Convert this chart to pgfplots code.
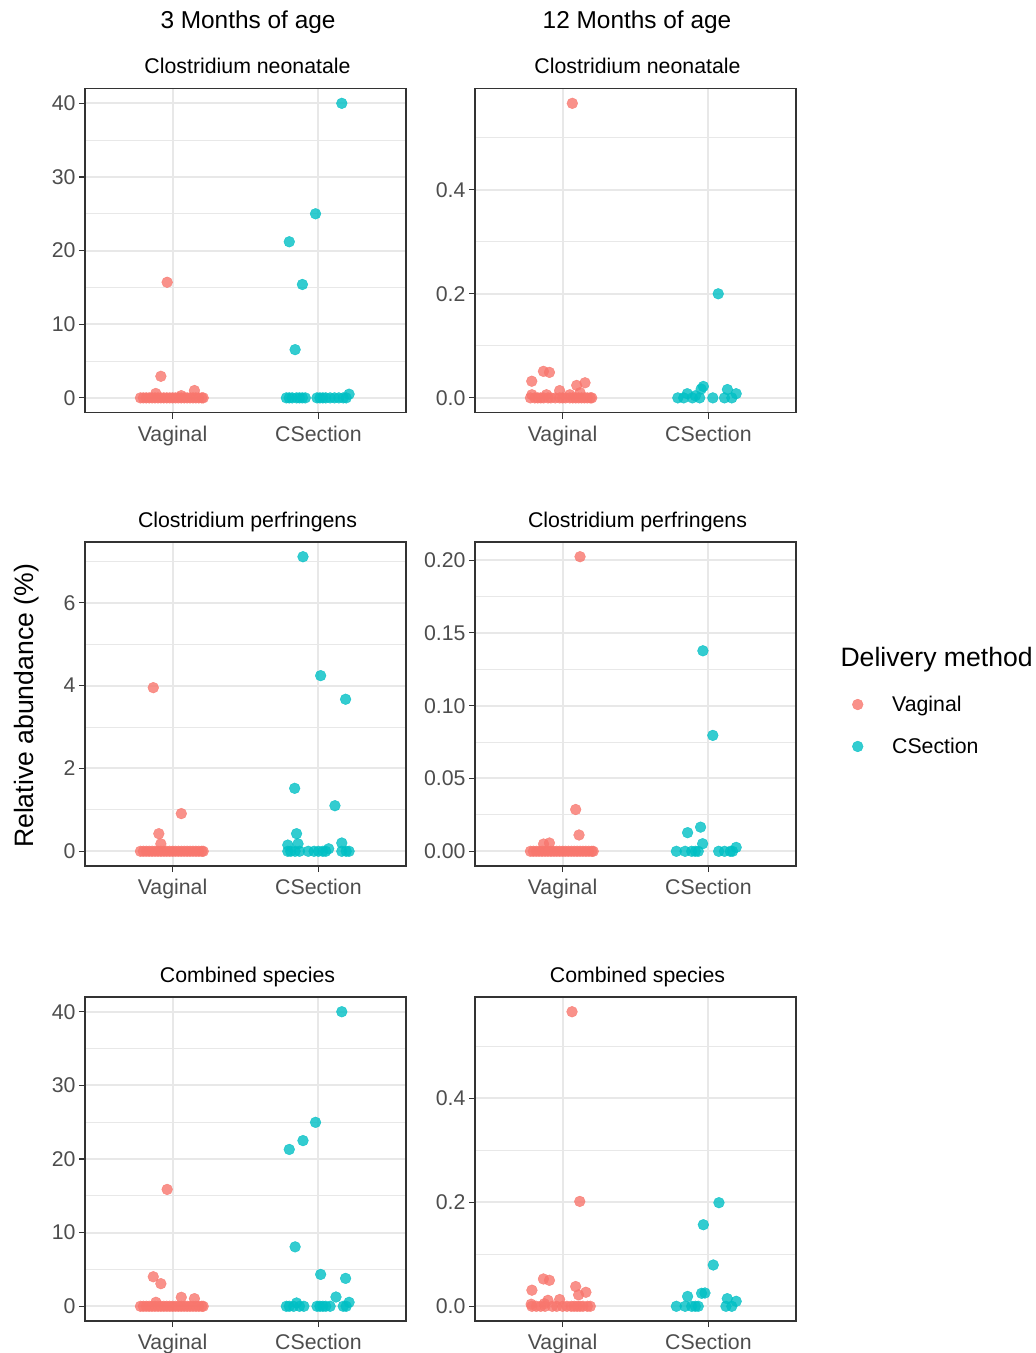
\documentclass[border=0pt]{standalone}
\usepackage{fontspec}
\setmainfont{Liberation Sans}
\usepackage{pgfplots}
\pgfplotsset{compat=1.18}

\definecolor{vag}{HTML}{F8766D}
\definecolor{csec}{HTML}{00BFC4}
\definecolor{gridc}{HTML}{E8E8E8}
\definecolor{g20}{HTML}{333333}
\definecolor{g30}{HTML}{4D4D4D}

\newcommand{\ticksize}{\fontsize{21.3}{25}\selectfont}
\newcommand{\headsize}{\fontsize{24.4}{28}\selectfont}
\newcommand{\titlesize}{\fontsize{26.6}{30}\selectfont}

\pgfplotsset{
  panel/.style={
    scale only axis, width=321pt, height=324pt,
    xmin=0.4, xmax=2.6,
    xtick={1,2}, xticklabels={Vaginal,CSection},
    xtick pos=bottom, ytick pos=left,
    xmajorgrids, ymajorgrids, yminorgrids,
    major grid style={color=gridc, line width=2pt},
    minor grid style={color=gridc, line width=1pt},
    tick align=outside, major tick length=6pt, minor tick length=0pt,
    tick style={color=g20, line width=1.1pt},
    axis line style={color=g20, line width=1.1pt},
    ticklabel style={font=\ticksize, text=g30},
    xticklabel style={yshift=-4pt},
    title style={font=\ticksize, at={(0.5,1)}, anchor=base, yshift=9pt, xshift=2pt},
    clip=false,
  },
  vagplot/.style={only marks, mark=*, mark size=5.4pt, color=vag,
    mark options={draw=vag, fill=vag, opacity=0.8}},
  csplot/.style={only marks, mark=*, mark size=5.4pt, color=csec,
    mark options={draw=csec, fill=csec, opacity=0.8}},
}

\begin{document}
\begin{tikzpicture}[x=1pt,y=1pt]
\useasboundingbox (0,0) rectangle (1036,-1353);

% column headers and shared labels
\node[font=\headsize, anchor=base] at (248,-28.5) {3 Months of age};
\node[font=\headsize, anchor=base] at (637,-28.5) {12 Months of age};
\node[font=\titlesize, rotate=90] at (27,-706) {Relative abundance (\%)};
\node[font=\titlesize, anchor=base west] at (837,-666) {Delivery method};

% ---- row 1: Clostridium neonatale
\begin{axis}[panel, at={(85pt,-88.6pt)}, anchor=north west,
    title={Clostridium neonatale},
    ymin=-2, ymax=42, ytick={0,10,20,30,40}, yticklabels={0,10,20,30,40},
    minor ytick={5,15,25,35}]
\addplot[vagplot] coordinates {
  (0.78,0) (0.80,0) (0.82,0) (0.84,0) (0.86,0) (0.88,0) (0.90,0) (0.92,0)
  (0.94,0) (0.96,0) (0.98,0) (1.00,0) (1.02,0) (1.04,0) (1.06,0) (1.08,0)
  (1.10,0) (1.12,0) (1.14,0) (1.16,0) (1.18,0) (1.20,0) (1.21,0)
  (0.885,0.6) (1.15,1.0) (1.06,0.3) (0.92,2.93) (0.963,15.7)
};
\addplot[csplot] coordinates {
  (1.78,0) (1.80,0) (1.82,0) (1.85,0) (1.87,0) (1.89,0) (1.91,0) (1.99,0)
  (2.01,0) (2.03,0) (2.05,0) (2.08,0) (2.11,0) (2.14,0) (2.17,0) (2.19,0)
  (2.21,0.5) (1.84,6.55) (1.89,15.4) (1.80,21.2) (1.98,25.0) (2.16,40)
};
\end{axis}

\begin{axis}[panel, at={(475pt,-88.6pt)}, anchor=north west,
    title={Clostridium neonatale},
    ymin=-0.0283, ymax=0.5943, ytick={0,0.2,0.4}, yticklabels={0.0,0.2,0.4},
    minor ytick={0.1,0.3,0.5}]
\addplot[vagplot] coordinates {
  (0.78,0) (0.81,0) (0.83,0) (0.85,0) (0.87,0) (0.90,0) (0.92,0) (0.95,0)
  (0.98,0) (1.00,0) (1.02,0) (1.05,0) (1.07,0) (1.09,0) (1.11,0) (1.13,0)
  (1.15,0) (1.17,0) (1.19,0) (1.20,0)
  (0.79,0.006) (0.89,0.006) (1.05,0.006) (1.12,0.010) (0.98,0.014)
  (1.097,0.024) (1.154,0.029) (0.789,0.032) (0.91,0.049) (0.869,0.051)
  (1.067,0.566)
};
\addplot[csplot] coordinates {
  (1.79,0) (1.83,0) (1.89,0) (1.94,0) (2.03,0) (2.11,0) (2.16,0)
  (1.91,0.004) (1.855,0.008) (2.19,0.008) (2.13,0.016) (1.95,0.017)
  (1.965,0.022) (2.067,0.2)
};
\end{axis}

% ---- row 2: Clostridium perfringens
\begin{axis}[panel, at={(85pt,-542pt)}, anchor=north west,
    title={Clostridium perfringens},
    ymin=-0.3555, ymax=7.4655, ytick={0,2,4,6}, yticklabels={0,2,4,6},
    minor ytick={1,3,5,7}]
\addplot[vagplot] coordinates {
  (0.78,0) (0.80,0) (0.82,0) (0.84,0) (0.86,0) (0.88,0) (0.90,0) (0.92,0)
  (0.94,0) (0.96,0) (0.98,0) (1.00,0) (1.02,0) (1.04,0) (1.06,0) (1.08,0)
  (1.10,0) (1.12,0) (1.14,0) (1.16,0) (1.18,0) (1.20,0) (1.21,0)
  (0.92,0.18) (0.906,0.425) (1.06,0.91) (0.868,3.95)
};
\addplot[csplot] coordinates {
  (1.79,0) (1.81,0) (1.84,0) (1.87,0) (1.93,0) (1.97,0) (2.00,0) (2.03,0)
  (2.05,0) (2.16,0) (2.19,0) (2.21,0)
  (2.07,0.06) (1.79,0.15) (1.86,0.18) (2.16,0.2) (1.85,0.425) (2.113,1.10)
  (1.837,1.52) (2.186,3.67) (2.015,4.24) (1.894,7.11)
};
\end{axis}

\begin{axis}[panel, at={(475pt,-542pt)}, anchor=north west,
    title={Clostridium perfringens},
    ymin=-0.0101, ymax=0.2124, ytick={0,0.05,0.1,0.15,0.2},
    yticklabels={0.00,0.05,0.10,0.15,0.20},
    minor ytick={0.025,0.075,0.125,0.175},
    legend cell align=left,
    legend style={draw=none, fill=none, font=\ticksize,
      at={(1.1655,0.5375)}, anchor=north west, row sep=21pt, column sep=27pt},
    legend image code/.code={\draw[#1] plot coordinates {(6pt,0pt)};}]
\addplot[vagplot] coordinates {
  (0.78,0) (0.80,0) (0.82,0) (0.84,0) (0.86,0) (0.88,0) (0.90,0) (0.92,0)
  (0.94,0) (0.96,0) (0.98,0) (1.00,0) (1.02,0) (1.04,0) (1.06,0) (1.08,0)
  (1.10,0) (1.12,0) (1.14,0) (1.16,0) (1.18,0) (1.20,0) (1.21,0)
  (0.87,0.005) (0.91,0.0057) (1.113,0.0112) (1.09,0.0287) (1.12,0.2023)
};
\addlegendentry{Vaginal}
\addplot[csplot] coordinates {
  (1.78,0) (1.84,0) (1.885,0) (1.91,0) (1.93,0) (2.07,0) (2.11,0) (2.15,0)
  (2.165,0)
  (2.19,0.0027) (1.96,0.0052) (1.857,0.0128) (1.946,0.0166) (2.03,0.0796)
  (1.962,0.1377)
};
\addlegendentry{CSection}
\end{axis}

% ---- row 3: Combined species
\begin{axis}[panel, at={(85pt,-997pt)}, anchor=north west,
    title={Combined species},
    ymin=-2, ymax=42, ytick={0,10,20,30,40}, yticklabels={0,10,20,30,40},
    minor ytick={5,15,25,35}]
\addplot[vagplot] coordinates {
  (0.78,0) (0.80,0) (0.82,0) (0.84,0) (0.86,0) (0.88,0) (0.90,0) (0.92,0)
  (0.94,0) (0.96,0) (0.98,0) (1.00,0) (1.02,0) (1.04,0) (1.06,0) (1.08,0)
  (1.10,0) (1.12,0) (1.14,0) (1.16,0) (1.18,0) (1.20,0) (1.21,0)
  (0.886,0.54) (1.15,1.04) (1.06,1.22) (0.92,3.07) (0.868,4.01) (0.963,15.87)
};
\addplot[csplot] coordinates {
  (1.78,0) (1.80,0) (1.83,0) (1.87,0) (1.90,0) (1.99,0) (2.01,0) (2.03,0)
  (2.05,0) (2.08,0) (2.17,0) (2.19,0)
  (1.85,0.45) (2.21,0.54) (2.12,1.26) (2.186,3.79) (2.015,4.33) (1.84,8.07)
  (1.80,21.3) (1.894,22.5) (1.98,24.98) (2.16,40)
};
\end{axis}

\begin{axis}[panel, at={(475pt,-997pt)}, anchor=north west,
    title={Combined species},
    ymin=-0.02835, ymax=0.59535, ytick={0,0.2,0.4}, yticklabels={0.0,0.2,0.4},
    minor ytick={0.1,0.3,0.5}]
\addplot[vagplot] coordinates {
  (0.79,0) (0.82,0) (0.85,0) (0.88,0) (0.93,0) (0.96,0) (1.00,0) (1.03,0)
  (1.06,0) (1.08,0) (1.10,0) (1.12,0) (1.14,0) (1.17,0) (1.19,0)
  (0.785,0.004) (0.875,0.005) (0.90,0.0115) (0.98,0.013) (1.11,0.022)
  (1.16,0.027) (0.79,0.031) (1.09,0.038) (0.91,0.05) (0.869,0.0526)
  (1.118,0.2019) (1.065,0.567)
};
\addplot[csplot] coordinates {
  (1.78,0) (1.84,0) (1.885,0) (1.91,0) (1.93,0) (2.12,0) (2.16,0)
  (2.19,0.0096) (2.129,0.0147) (1.857,0.019) (1.953,0.025) (1.976,0.0256)
  (2.033,0.0795) (1.965,0.157) (2.072,0.1994)
};
\end{axis}
\end{tikzpicture}
\end{document}
